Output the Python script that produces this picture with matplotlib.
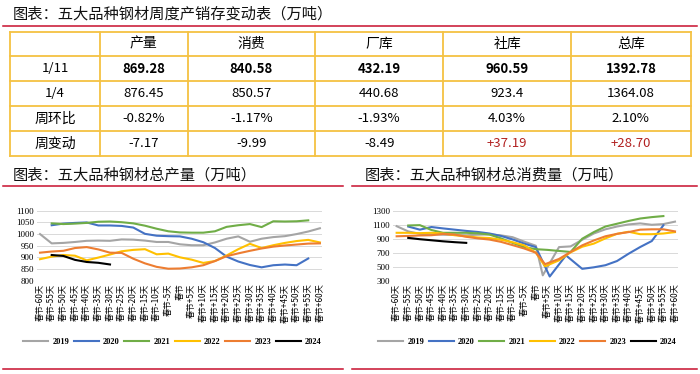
import matplotlib
matplotlib.use('Agg')
import matplotlib.pyplot as plt
from matplotlib.lines import Line2D

CJK = ['Noto Sans CJK SC', 'DejaVu Sans']
SERIF = 'Liberation Serif'

# ---------------- data ----------------
tbl_cols = ['产量', '消费', '厂库', '社库', '总库']
tbl_rows = ['1/11', '1/4', '周环比', '周变动']
tbl_cur = ['869.28', '840.58', '432.19', '960.59', '1392.78']
tbl_prev = ['876.45', '850.57', '440.68', '923.4', '1364.08']
tbl_wow = ['-0.82%', '-1.17%', '-1.93%', '4.03%', '2.10%']
tbl_chg = ['-7.17', '-9.99', '-8.49', '+37.19', '+28.70']

x_days = [-60, -55, -50, -45, -40, -35, -30, -25, -20, -15, -10, -5, 0,
          5, 10, 15, 20, 25, 30, 35, 40, 45, 50, 55, 60]
x_labels = ['春节-60天', '春节-55天', '春节-50天', '春节-45天', '春节-40天',
            '春节-35天', '春节-30天', '春节-25天', '春节-20天', '春节-15天',
            '春节-10天', '春节-5天', '春节', '春节+5天', '春节+10天',
            '春节+15天', '春节+20天', '春节+25天', '春节+30天', '春节+35天',
            '春节+40天', '春节+45天', '春节+50天', '春节+55天', '春节+60天']
years = ['2019', '2020', '2021', '2022', '2023', '2024']

# production
prod_days_2019 = x_days
prod_2019 = [1000, 960, 962, 966, 971, 972, 971, 977, 976, 972, 966, 966, 956,
             952, 952, 964, 980, 990, 967, 980, 987, 991, 1000, 1011, 1025]
prod_days_2020 = x_days[1:-1]
prod_2020 = [1038, 1045, 1048, 1050, 1037, 1037, 1035, 1028, 1001, 993, 991, 990,
             980, 965, 940, 903, 882, 867, 857, 866, 869, 866, 895]
prod_days_2021 = x_days[1:-1]
prod_2021 = [1046, 1043, 1045, 1048, 1053, 1054, 1051, 1046, 1036, 1023, 1012, 1007,
             1006, 1006, 1012, 1031, 1038, 1043, 1030, 1055, 1054, 1055, 1059]
prod_days_2022 = x_days
prod_2022 = [892, 903, 910, 907, 887, 899, 912, 926, 932, 935, 913, 916, 900,
             890, 876, 884, 908, 935, 958, 940, 952, 962, 970, 975, 964]
prod_days_2023 = x_days
prod_2023 = [920, 925, 928, 940, 944, 934, 920, 919, 894, 874, 859, 851, 852,
             857, 866, 884, 905, 917, 928, 938, 946, 951, 955, 959, 960]
prod_days_2024 = [-55, -50, -45, -40, -35, -30]
prod_2024 = [910, 906, 889, 880, 876.45, 869.28]

# consumption
cons_days_2019 = [-60, -55, -50, -45, -40, -35, -30, -25, -20, -15, -10, -5, 0,
                  3, 10, 15, 20, 25, 30, 35, 40, 45, 50, 55, 60]
cons_2019 = [1080, 1005, 970, 963, 958, 954, 950, 958, 962, 948, 922, 858, 800,
             375, 780, 790, 885, 975, 1035, 1075, 1105, 1120, 1100, 1110, 1145]
cons_days_2020 = [-55, -50, -45, -40, -35, -30, -25, -20, -15, -10, -5, 0,
                  6, 13, 20, 25, 30, 35, 40, 45, 50, 55]
cons_2020 = [1075, 1030, 1068, 1048, 1030, 1012, 997, 975, 940, 890, 830, 780,
             358, 661, 468, 490, 520, 580, 685, 781, 867, 1093]
cons_days_2021 = x_days[1:-1]
cons_2021 = [1090, 1095, 1025, 985, 985, 985, 978, 960, 905, 840, 780, 750,
             740, 725, 710, 900, 995, 1075, 1115, 1155, 1190, 1210, 1225]
cons_days_2022 = [-60, -55, -50, -45, -40, -35, -30, -25, -20, -15, -10, -5, 0,
                  4, 10, 15, 20, 25, 30, 35, 40, 45, 50, 55, 60]
cons_2022 = [985, 985, 980, 985, 975, 950, 935, 918, 910, 885, 850, 805, 700,
             505, 590, 705, 785, 830, 905, 970, 1000, 965, 965, 975, 995]
cons_days_2023 = [-60, -55, -50, -45, -40, -35, -30, -25, -20, -15, -10, -5, 0,
                  4, 10, 15, 20, 25, 30, 35, 40, 45, 50, 55, 60]
cons_2023 = [935, 940, 947, 950, 968, 960, 928, 905, 888, 855, 808, 760, 700,
             535, 610, 710, 805, 875, 935, 970, 995, 1030, 1035, 1035, 1005]
cons_days_2024 = [-55, -50, -45, -40, -35, -30]
cons_2024 = [912, 893, 878, 863, 850.57, 840.58]

colors = ['#A5A5A5', '#4472C4', '#70AD47', '#FFC000', '#ED7D31', '#000000']

# ---------------- figure ----------------
W, H = 700, 374
fig = plt.figure(figsize=(W / 100, H / 100), dpi=100)
ov = fig.add_axes([0, 0, 1, 1])
ov.set_xlim(0, W)
ov.set_ylim(H, 0)
ov.axis('off')

RED = '#C8102E'
ov.text(13, 14, '图表：五大品种钢材周度产销存变动表（万吨）', fontsize=11,
        family=CJK, va='center', ha='left', color='#111111')
ov.plot([3, 697], [26, 26], color=RED, lw=1.1)

# table
GOLD = '#F5C242'
col_x = [10, 100, 187.7, 315, 443.3, 571, 690.7]
row_y = [31.7, 56, 81, 106, 131, 155.7]
for x in col_x:
    ov.plot([x, x], [row_y[0], row_y[-1]], color=GOLD, lw=1.3, solid_capstyle='projecting')
for y in row_y:
    ov.plot([col_x[0], col_x[-1]], [y, y], color=GOLD, lw=1.3, solid_capstyle='projecting')

def cx(j):
    return (col_x[j] + col_x[j + 1]) / 2

def cy(i):
    return (row_y[i] + row_y[i + 1]) / 2

for j, c in enumerate(tbl_cols):
    ov.text(cx(j + 1), cy(0), c, fontsize=10, family=CJK, ha='center', va='center')
for i, r in enumerate(tbl_rows):
    fs = 9.5 if r[0].isdigit() else 10
    ov.text(cx(0), cy(i + 1), r, fontsize=fs, family=CJK, ha='center', va='center')
rows_vals = [tbl_cur, tbl_prev, tbl_wow, tbl_chg]
for i, vals in enumerate(rows_vals):
    for j, v in enumerate(vals):
        col = '#B22222' if v.startswith('+') else 'black'
        ov.text(cx(j + 1), cy(i + 1), v, fontsize=9.5, family=CJK, ha='center',
                va='center', color=col, weight='bold' if i == 0 else 'normal')

# section titles and lines
ov.text(13, 175, '图表：五大品种钢材总产量（万吨）', fontsize=11, family=CJK,
        va='center', ha='left', color='#111111')
ov.text(365, 175, '图表：五大品种钢材总消费量（万吨）', fontsize=11, family=CJK,
        va='center', ha='left', color='#111111')
for y in (186, 369):
    ov.plot([3, 343], [y, y], color=RED, lw=1.1)
    ov.plot([352, 697], [y, y], color=RED, lw=1.1)


def px_axes(x0, y0, x1, y1):
    return fig.add_axes([x0 / W, 1 - y1 / H, (x1 - x0) / W, (y1 - y0) / H])


def style(ax, yticks, ylim, xlim):
    ax.set_xlim(*xlim)
    ax.set_ylim(*ylim)
    for s in ax.spines.values():
        s.set_visible(False)
    ax.set_yticks(yticks)
    ax.set_yticklabels([str(v) for v in yticks], family=SERIF, fontsize=6.5)
    ax.set_xticks(x_days)
    ax.set_xticklabels(x_labels, rotation=90, family=CJK, fontsize=6)
    ax.tick_params(axis='both', length=0, pad=2)
    ax.grid(axis='y', color='#D9D9D9', lw=0.7)
    ax.set_axisbelow(True)
    ax.patch.set_alpha(0)


# production chart
ax1 = px_axes(37, 210.7, 322, 280.7)
prod_sets = [(prod_days_2019, prod_2019), (prod_days_2020, prod_2020),
             (prod_days_2021, prod_2021), (prod_days_2022, prod_2022),
             (prod_days_2023, prod_2023), (prod_days_2024, prod_2024)]
for (d, v), c, yr in zip(prod_sets, colors, years):
    ax1.plot(d, v, color=c, lw=1.5, label=yr, solid_joinstyle='round')
style(ax1, [800, 850, 900, 950, 1000, 1050, 1100], (799.5, 1100.5), (-61.3, 60.9))

# consumption chart
ax2 = px_axes(392.7, 210.7, 678, 280.7)
cons_sets = [(cons_days_2019, cons_2019), (cons_days_2020, cons_2020),
             (cons_days_2021, cons_2021), (cons_days_2022, cons_2022),
             (cons_days_2023, cons_2023), (cons_days_2024, cons_2024)]
for (d, v), c, yr in zip(cons_sets, colors, years):
    ax2.plot(d, v, color=c, lw=1.5, label=yr, solid_joinstyle='round')
style(ax2, [300, 500, 700, 900, 1100, 1300], (298, 1302), (-61.7, 61.3))

for ax, xc in ((ax1, 172.5), (ax2, 527.5)):
    handles = [Line2D([0], [0], color=c, lw=1.5) for c in colors]
    ax.legend(handles, years, loc='center', ncol=6, frameon=False,
              bbox_to_anchor=(xc / W, 1 - 341.5 / H), bbox_transform=fig.transFigure,
              prop={'family': SERIF, 'weight': 'bold', 'size': 6},
              handlelength=3.0, handletextpad=0.5, columnspacing=0.55, borderpad=0)

fig.savefig('out.png', dpi=100)
